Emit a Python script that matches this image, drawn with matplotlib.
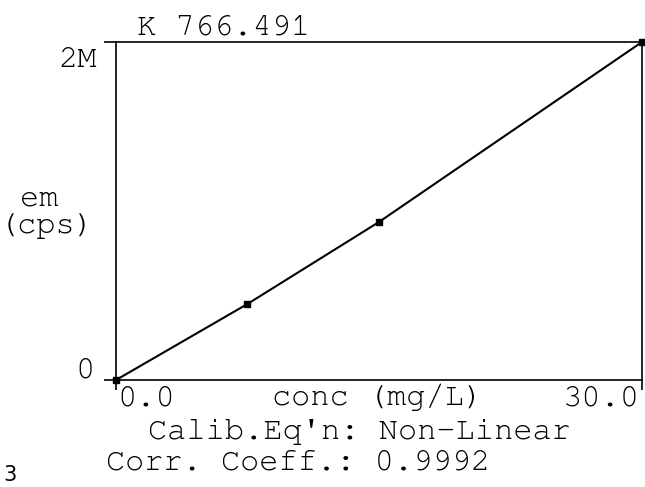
import matplotlib
matplotlib.use("Agg")
import matplotlib.pyplot as plt

# ---- data ----
conc = [0.0, 7.5, 15.0, 30.0]          # mg/L
em = [0.0, 0.45e6, 0.935e6, 2.0e6]     # cps
x_range = [0.0, 30.0]
y_range = [0.0, 2.0e6]
x_tick_labels = ["0.0", "30.0"]
y_tick_labels = ["0", "2M"]
title_text = "K 766.491"
x_label = "conc (mg/L)"
y_label_lines = ["em", "(cps)"]
eq_text = "Calib.Eq'n: Non-Linear"
corr_text = "Corr. Coeff.: 0.9992"
page_text = "3"

W, H = 645, 487
FONT = ["Nimbus Mono PS", "FreeMono", "Courier New", "Liberation Mono", "DejaVu Sans Mono"]
FS = 23

plt.rcParams["font.family"] = FONT

fig = plt.figure(figsize=(W / 100, H / 100), dpi=100)
L, R, T, B = 116, 642, 42, 380
ax = fig.add_axes([L / W, 1 - B / H, (R - L) / W, (B - T) / H])
ax.set_xlim(*x_range)
ax.set_ylim(*y_range)

lw = 1.2
for s in ax.spines.values():
    s.set_linewidth(lw)
    s.set_color("black")

ax.set_xticks(x_range)
ax.set_yticks(y_range)
ax.set_xticklabels([])
ax.set_yticklabels([])
ax.tick_params(axis="x", direction="out", length=7.2, width=lw, color="black")
ax.tick_params(axis="y", direction="out", length=8.6, width=lw, color="black")

ax.plot(conc, em, color="black", lw=1.5, marker="s", markersize=4.5,
        markerfacecolor="black", markeredgecolor="black", clip_on=False, zorder=3)


def axc(px, py):
    return ((px - L) / (R - L), (B - py) / (B - T))


def txt(px, py, s, ha="left", va="baseline", **kw):
    x, y = axc(px, py)
    ax.text(x, y, s, transform=ax.transAxes, ha=ha, va=va, fontsize=FS,
            clip_on=False, **kw)


txt(137, 34, title_text)
txt(97, 67, y_tick_labels[1], ha="right")
txt(95, 378, y_tick_labels[0], ha="right")
txt(39, 205, y_label_lines[0], ha="center")
txt(47, 233, y_label_lines[1], ha="center")
txt(117, 405, x_tick_labels[0])
txt(378, 405, x_label, ha="center")
txt(640, 405, x_tick_labels[1], ha="right")
txt(148, 439, eq_text)
txt(106, 469, corr_text)

fig.text(3 / W, 1 - 481 / H, page_text, fontsize=15, family="DejaVu Sans",
         ha="left", va="baseline")

fig.savefig("out.png", dpi=100)
